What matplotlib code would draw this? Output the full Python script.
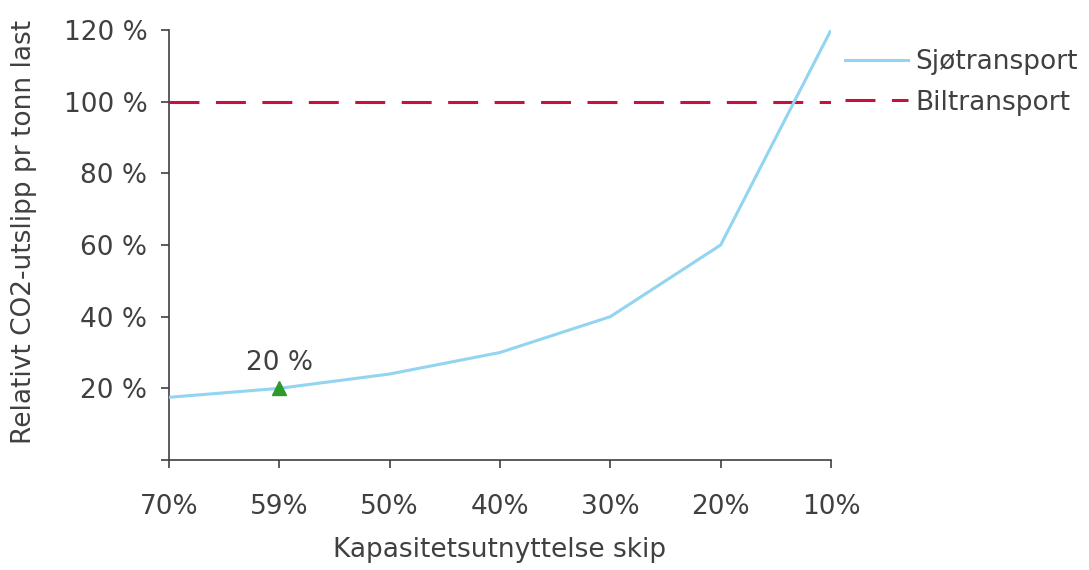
import matplotlib
matplotlib.use("Agg")
import matplotlib.pyplot as plt
from matplotlib.ticker import FuncFormatter

categories = ["70%", "59%", "50%", "40%", "30%", "20%", "10%"]
sjotransport = [17.5, 20, 24, 30, 40, 60, 120]
biltransport = [100, 100, 100, 100, 100, 100, 100]
marker_category = "59%"
marker_value = 20
y_ticks = [0, 20, 40, 60, 80, 100, 120]

TXT = "#404040"
FS = 19
plt.rcParams['font.family'] = ['DejaVu Sans']

fig = plt.figure(figsize=(10.89, 5.70), dpi=100)
ax = fig.add_axes([169/1089, 110/570, (831-169)/1089, (460-30)/570])

x = list(range(len(categories)))
ax.plot(x, sjotransport, color="#93D4F0", lw=2.2, label="Sjøtransport", zorder=3)
ax.plot(x, biltransport, color="#C8103E", lw=2.2, dashes=(9.8, 5.4), label="Biltransport", zorder=2)

mi = categories.index(marker_category)
ax.plot([mi], [marker_value], marker="^", color="#2E9A2E", ms=10, ls="none", zorder=4)
ax.annotate(f"{marker_value} %", (mi, marker_value), xytext=(0, 9), textcoords="offset points",
            ha="center", va="bottom", fontsize=FS, color=TXT)

ax.set_xlim(0, len(categories) - 1)
ax.set_ylim(0, 120)
ax.set_xticks(x)
ax.set_xticklabels(categories)
ax.set_yticks(y_ticks)
ax.yaxis.set_major_formatter(FuncFormatter(lambda v, p: "" if v == 0 else f"{int(v)} %"))

for s in ["top", "right"]:
    ax.spines[s].set_visible(False)
for s in ["left", "bottom"]:
    ax.spines[s].set_color("#404040")
    ax.spines[s].set_linewidth(1.2)

ax.tick_params(axis="y", direction="out", length=5.5, width=1.2, color="#404040",
               labelsize=FS, labelcolor=TXT, pad=10)
ax.tick_params(axis="x", direction="out", length=5.5, width=1.2, color="#404040",
               labelsize=FS, labelcolor=TXT, pad=19)

ax.set_xlabel("Kapasitetsutnyttelse skip", fontsize=FS, color=TXT)
ax.set_ylabel("Relativt CO2-utslipp pr tonn last", fontsize=FS, color=TXT)
ax.xaxis.set_label_coords(0.5, -0.18)
ax.yaxis.set_label_coords(-0.2, 0.53)

leg = ax.legend(loc="upper left", bbox_to_anchor=(1.021, 0.955), frameon=False,
                fontsize=FS, handlelength=2.4, handletextpad=0.27, labelspacing=0.54,
                borderaxespad=0, borderpad=0)
for t in leg.get_texts():
    t.set_color(TXT)

fig.savefig("out.png", dpi=100)
